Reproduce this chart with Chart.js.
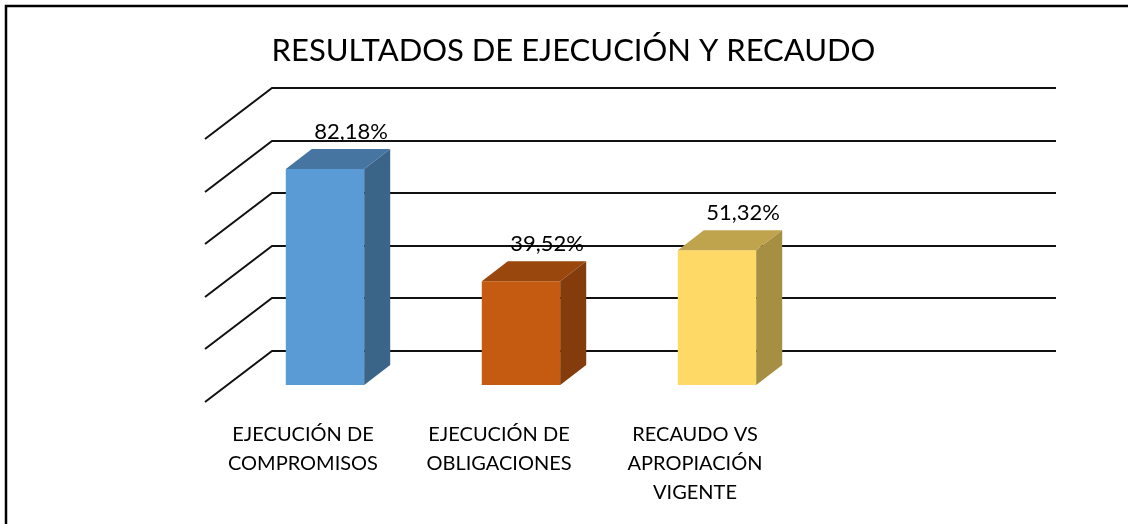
<!DOCTYPE html>
<html>
<head>
<meta charset="utf-8">
<script src="https://cdn.jsdelivr.net/npm/chart.js@4.4.1/dist/chart.umd.min.js"></script>
<style>
  html, body { margin: 0; padding: 0; background: #ffffff; }
  #wrap { width: 1128px; height: 524px; }
</style>
</head>
<body>
<div id="wrap"><canvas id="chart"></canvas></div>
<script>
// categories (4th slot is empty in the original chart)
const categories = [
  ["EJECUCIÓN DE", "COMPROMISOS"],
  ["EJECUCIÓN DE", "OBLIGACIONES"],
  ["RECAUDO VS", "APROPIACIÓN", "VIGENTE"],
  ""
];
const values = [82.18, 39.52, 51.32];
const valueLabels = ["82,18%", "39,52%", "51,32%"];
const yTicks = [0, 20, 40, 60, 80, 100];

const frontColors = ["#5B9BD5", "#C55A11", "#FFD966"];
const topColors = ["#4675A2", "#9A470E", "#C0A44D"];
const sideColors = ["#3B6588", "#843C0C", "#A68E42"];

const FONT = "Lato";

// 3d offsets (px)
const wallDx = 45, wallDy = 34;   // back wall relative to bar front plane
const floorDx = 67, floorDy = 51; // full floor depth
const barDx = 26, barDy = 20;     // depth of each bar

const threeD = {
  id: "threeD",
  beforeDraw(chart) {
    const ctx = chart.ctx;
    ctx.save();
    ctx.strokeStyle = "#000";
    ctx.lineWidth = 2.5;
    ctx.beginPath();
    ctx.moveTo(6, chart.height);
    ctx.lineTo(6, 6);
    ctx.lineTo(chart.width, 6);
    ctx.stroke();
    ctx.restore();
  },
  beforeDatasetsDraw(chart) {
    const ctx = chart.ctx;
    const x = chart.scales.x, y = chart.scales.y;
    const left = x.left + wallDx, right = x.right + wallDx;
    ctx.save();
    ctx.strokeStyle = "#111";
    ctx.lineWidth = 2;
    yTicks.forEach(v => {
      const yb = Math.round(y.getPixelForValue(v) - wallDy);
      ctx.beginPath();
      ctx.moveTo(left - floorDx, yb + floorDy);
      ctx.lineTo(left, yb);
      ctx.lineTo(right, yb);
      ctx.stroke();
    });
    ctx.restore();
  },
  afterDatasetsDraw(chart) {
    const ctx = chart.ctx;
    const meta = chart.getDatasetMeta(0);
    ctx.save();
    meta.data.forEach((bar, i) => {
      const l = bar.x - bar.width / 2, r = bar.x + bar.width / 2;
      const t = bar.y, b = bar.base;
      // top face
      ctx.fillStyle = topColors[i];
      ctx.beginPath();
      ctx.moveTo(l, t);
      ctx.lineTo(l + barDx, t - barDy);
      ctx.lineTo(r + barDx, t - barDy);
      ctx.lineTo(r, t);
      ctx.closePath();
      ctx.fill();
      // side face
      ctx.fillStyle = sideColors[i];
      ctx.beginPath();
      ctx.moveTo(r, t);
      ctx.lineTo(r + barDx, t - barDy);
      ctx.lineTo(r + barDx, b - barDy);
      ctx.lineTo(r, b);
      ctx.closePath();
      ctx.fill();
      // value label
      ctx.fillStyle = "#000";
      ctx.font = "22px " + FONT;
      ctx.textAlign = "center";
      ctx.textBaseline = "alphabetic";
      ctx.fillText(valueLabels[i], bar.x + barDx, t - barDy - 10);
    });
    ctx.restore();
  }
};

new Chart(document.getElementById("chart"), {
  type: "bar",
  data: {
    labels: categories,
    datasets: [{
      data: values,
      backgroundColor: frontColors,
      borderWidth: 0,
      categoryPercentage: 1,
      barPercentage: 0.4
    }]
  },
  options: {
    responsive: true,
    maintainAspectRatio: false,
    animation: false,
    layout: { padding: { left: 19, right: 0, top: 0, bottom: 0 } },
    plugins: {
      legend: { display: false },
      tooltip: { enabled: false },
      title: {
        display: true,
        text: "RESULTADOS DE EJECUCIÓN Y RECAUDO",
        color: "#000",
        font: { family: FONT, size: 31, weight: "normal", lineHeight: 1.2 },
        padding: { top: 32, bottom: 53 }
      }
    },
    scales: {
      x: {
        grid: { display: false, drawTicks: false },
        border: { display: false },
        ticks: {
          color: "#000",
          font: { family: FONT, size: 20, lineHeight: 1.45 },
          labelOffset: -22,
          padding: 35,
          maxRotation: 0,
          autoSkip: false
        },
        afterFit: s => { s.height = 139; }
      },
      y: {
        min: 0,
        max: 100,
        ticks: { display: false, stepSize: 20 },
        grid: { display: false },
        border: { display: false },
        afterFit: s => { s.width = 208; }
      },
      y2: {
        position: "right",
        min: 0,
        max: 100,
        ticks: { display: false },
        grid: { display: false },
        border: { display: false },
        afterFit: s => { s.width = 117; }
      }
    }
  },
  plugins: [threeD]
});
</script>
</body>
</html>
